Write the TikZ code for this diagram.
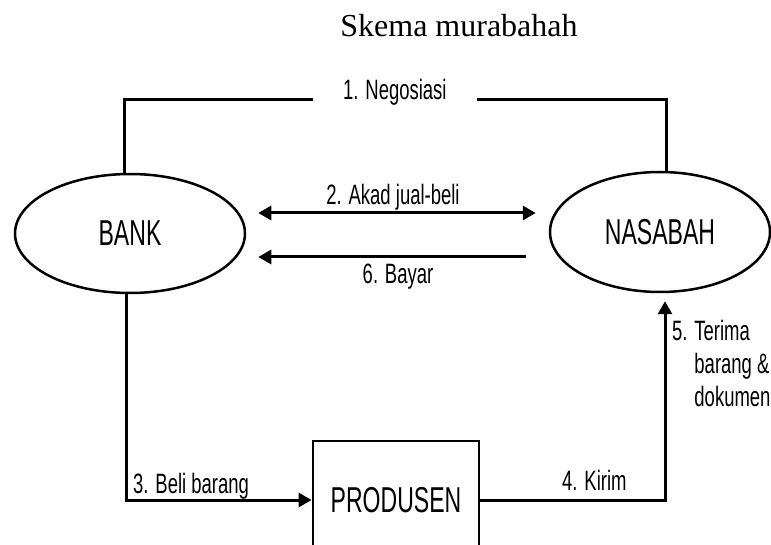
\documentclass[tikz,border=0pt]{standalone}
\usepackage{fontspec}
\setmainfont{Liberation Serif}
\newfontfamily\narrowsans[FakeStretch=0.66]{Liberation Sans}
\newfontfamily\nodesans[FakeStretch=0.64]{Liberation Sans}
\usetikzlibrary{shapes.geometric,arrows.meta,calc}
\begin{document}
\begin{tikzpicture}[x=1pt,y=-1pt,
  entity/.style={draw,ellipse,line width=2.5pt,minimum width=230pt,minimum height=119pt,inner sep=0pt,font=\nodesans\fontsize{36}{36}\selectfont},
  boxnode/.style={draw,rectangle,line width=2.8pt,minimum width=166pt,minimum height=118pt,inner sep=0pt,font=\nodesans\fontsize{36}{36}\selectfont},
  lbl/.style={inner sep=0pt,font=\narrowsans\fontsize{28}{33}\selectfont},
  conn/.style={line width=3pt},
  arr/.style={conn,-{Triangle[length=13pt,width=14pt]}},
  arrboth/.style={conn,{Triangle[length=13pt,width=14pt]}-{Triangle[length=13pt,width=14pt]}}]
\useasboundingbox (0,0) rectangle (771,545);
\node[font=\fontsize{32}{32}\selectfont,anchor=base,inner sep=0pt] (title) at (459,37) {Skema murabahah};
\node[entity] (bank) at (130,233.5) {BANK};
\node[entity,minimum width=220pt,minimum height=120pt] (nas) at (660,232) {NASABAH};
\node[boxnode] (prod) at (396,500) {PRODUSEN};
% 1. Negosiasi
\node[lbl,anchor=base west,inner xsep=30pt] (neg) at (313,100) {1. Negosiasi};
\draw[conn] ($(bank.north)+(-6,0)$) |- (neg.base west);
\draw[conn] ($(nas.north)+(6,0)$) |- (neg.base east);
% 2. Akad jual-beli
\coordinate (a2l) at ($(bank.east)+(12,-20.5)$);
\coordinate (a2r) at ($(nas.west)+(-13,-19)$);
\draw[arrboth] (a2l) -- (a2r);
\node[lbl,anchor=base] (l2) at (393,205) {2. Akad jual-beli};
% 6. Bayar
\coordinate (a6l) at ($(bank.east)+(12,23.5)$);
\coordinate (a6r) at ($(nas.west)+(-23,25)$);
\draw[arr] (a6r) -- (a6l);
\node[lbl,anchor=base] (l6) at (398,284) {6. Bayar};
% 3. Beli barang
\draw[arr] ($(bank.south)+(-4,0)$) |- (prod.west);
\node[lbl,anchor=base west] (l3) at (133,493) {3. Beli barang};
% 4. Kirim / 5. Terima
\coordinate (a5) at ($(nas.south)+(5,8)$);
\draw[arr] (prod.east) -| (a5);
\node[lbl,anchor=base west] (l4) at (562,490) {4. Kirim};
\node[lbl,anchor=base west,align=left] (l5) at (672,406) {5. Terima\\\phantom{5. }barang \&\\\phantom{5. }dokumen};
\end{tikzpicture}
\end{document}
